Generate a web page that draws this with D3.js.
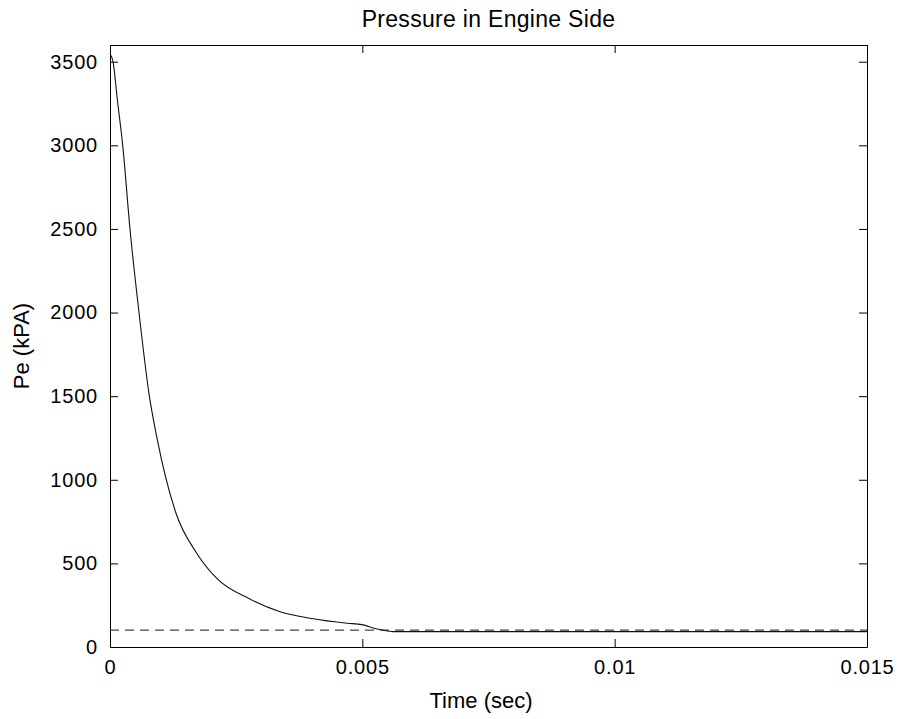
<!DOCTYPE html>
<html>
<head>
<meta charset="utf-8">
<script src="https://cdn.jsdelivr.net/npm/d3@7"></script>
<style>
  body { margin: 0; background: #fff; }
  svg { display: block; font-family: "Liberation Sans", Arial, sans-serif; }
  .axis path, .axis line { stroke: #000; }
  .axis text { font-size: 20px; fill: #000; }
</style>
</head>
<body>
<svg width="903" height="719"></svg>
<script>
/* values: time in seconds, pressure in kPa */
var timeSec = [0, 0.00006, 0.000145, 0.000252, 0.000396, 0.000575, 0.00078, 0.000938,
  0.001308, 0.001718, 0.002148, 0.002742, 0.00337, 0.003965, 0.0047, 0.00499,
  0.00529, 0.00562, 0.015];
var pressure = [3545, 3500, 3274, 3000, 2500, 2000, 1500, 1239,
  800, 561, 401, 291, 211, 172, 142, 134,
  108, 92, 92];
var atmPressure = 101.3;   /* dashed reference line */
var xTicks = [0, 0.005, 0.01, 0.015];
var yTicks = [0, 500, 1000, 1500, 2000, 2500, 3000, 3500];

var svg = d3.select("svg"),
    margin = {top: 45, right: 36, bottom: 72, left: 110},
    width = +svg.attr("width") - margin.left - margin.right,
    height = +svg.attr("height") - margin.top - margin.bottom;

var x = d3.scaleLinear().domain([0, 0.015]).range([0, width]),
    y = d3.scaleLinear().domain([0, 3600]).range([height, 0]);

var g = svg.append("g")
    .attr("transform", "translate(" + margin.left + "," + margin.top + ")");

var fmt = function(d) { return d === 0 ? "0" : String(d); };

/* ticks point inwards on all four sides, like a boxed matlab axes */
g.append("g")
    .attr("class", "axis axis--x")
    .attr("transform", "translate(0," + height + ")")
    .call(d3.axisBottom(x).tickValues(xTicks).tickFormat(fmt)
      .tickSizeInner(-8).tickSizeOuter(0).tickPadding(13));

g.append("g")
    .attr("class", "axis axis--y")
    .call(d3.axisLeft(y).tickValues(yTicks).tickFormat(fmt)
      .tickSizeInner(-8).tickSizeOuter(0).tickPadding(12));

g.append("g")
    .attr("class", "axis")
    .call(d3.axisTop(x).tickValues(xTicks).tickFormat("")
      .tickSizeInner(-8).tickSizeOuter(0));

g.append("g")
    .attr("class", "axis")
    .attr("transform", "translate(" + width + ",0)")
    .call(d3.axisRight(y).tickValues(yTicks).tickFormat("")
      .tickSizeInner(-8).tickSizeOuter(0));

g.selectAll(".axis text").attr("letter-spacing", "0.8px");

/* dashed line at atmospheric pressure */
g.append("line")
    .attr("x1", x(0)).attr("x2", x(0.015))
    .attr("y1", y(atmPressure)).attr("y2", y(atmPressure))
    .attr("stroke", "#444")
    .attr("stroke-width", 1.2)
    .attr("stroke-dasharray", "9,6");

var line = d3.line()
    .x(function(d, i) { return x(timeSec[i]); })
    .y(function(d) { return y(d); })
    .curve(d3.curveMonotoneX);

g.append("path")
    .datum(pressure)
    .attr("fill", "none")
    .attr("stroke", "#111")
    .attr("stroke-width", 1.1)
    .attr("d", line);

/* title and axis labels */
svg.append("text")
    .attr("x", margin.left + width / 2)
    .attr("y", 27)
    .attr("text-anchor", "middle")
    .attr("font-size", 23)
    .attr("letter-spacing", "0.3px")
    .text("Pressure in Engine Side");

svg.append("text")
    .attr("x", 481)
    .attr("y", 708)
    .attr("text-anchor", "middle")
    .attr("font-size", 22)
    .text("Time (sec)");

svg.append("text")
    .attr("transform", "translate(29," + (margin.top + height / 2) + ") rotate(-90)")
    .attr("text-anchor", "middle")
    .attr("font-size", 22)
    .text("Pe (kPA)");
</script>
</body>
</html>
